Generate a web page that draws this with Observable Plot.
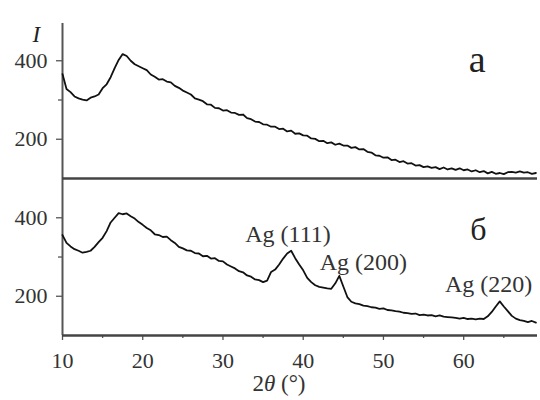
<!DOCTYPE html>
<html>
<head>
<meta charset="utf-8">
<script src="https://cdn.jsdelivr.net/npm/d3@7"></script>
<script src="https://cdn.jsdelivr.net/npm/@observablehq/plot@0.6"></script>
<style>
  body { margin: 0; background: #fff; }
  #chart { width: 540px; height: 400px; position: relative; overflow: hidden; }
  #chart svg { display: block; }
</style>
</head>
<body>
<div id="chart"></div>
<script>
// 2θ values (degrees)
const twoTheta = [
  10,10.5,11,11.5,12,12.5,13,13.5,14,14.5,
  15,15.5,16,16.5,17,17.5,18,18.5,19,19.5,
  20,20.5,21,21.5,22,22.5,23,23.5,24,24.5,
  25,25.5,26,26.5,27,27.5,28,28.5,29,29.5,
  30,30.5,31,31.5,32,32.5,33,33.5,34,34.5,
  35,35.5,36,36.5,37,37.5,38,38.5,39,39.5,
  40,40.5,41,41.5,42,42.5,43,43.5,44,44.5,
  45,45.5,46,46.5,47,47.5,48,48.5,49,49.5,
  50,50.5,51,51.5,52,52.5,53,53.5,54,54.5,
  55,55.5,56,56.5,57,57.5,58,58.5,59,59.5,
  60,60.5,61,61.5,62,62.5,63,63.5,64,64.5,
  65,65.5,66,66.5,67,67.5,68,68.5,69
];
// Panel а intensity
const intensityA = [
  366,328,320,309,304,301,299,306,309,314,
  330,340,358,381,402,417,412,400,391,386,
  381,376,365,359,352,353,347,345,336,331,
  324,319,314,304,301,297,289,288,280,279,
  273,274,268,267,262,263,254,251,245,244,
  238,237,232,232,226,227,220,222,214,215,
  210,209,202,201,195,196,190,192,186,189,
  184,184,178,180,174,175,168,166,159,158,
  153,154,147,148,142,144,138,139,133,134,
  129,131,127,129,124,128,123,126,122,126,
  121,123,118,121,116,119,113,117,112,114,
  111,116,117,115,118,115,116,112,114
];
// Panel б intensity
const intensityB = [
  356,336,327,320,316,311,313,316,326,338,
  349,366,388,400,412,409,411,404,398,389,
  382,374,368,358,356,351,352,343,336,326,
  322,317,316,310,309,302,303,296,297,290,
  289,281,276,271,264,261,253,250,243,241,
  236,240,262,268,281,296,309,316,297,281,
  266,247,236,228,224,222,220,219,233,252,
  225,198,186,182,180,176,175,172,171,168,
  169,165,164,162,161,158,157,155,156,152,
  153,151,152,149,151,148,147,146,145,143,
  145,142,143,141,143,142,149,160,174,187,
  174,162,150,143,139,137,134,137,133
];
const yTicks = [200, 400];
const yMinorTicks = [300];
const xTicks = [10, 20, 30, 40, 50, 60];
const xMinorTicks = [15, 25, 35, 45, 55, 65];
const panelLabels = ["а", "б"];
const peakLabels = ["Ag (111)", "Ag (200)", "Ag (220)"];
const peakX = [38.1, 47.5, 63.1];
const peakY = [357, 286, 230];
const yLabel = "I";
const xLabelParts = ["2", "θ", " (°)"];

const font = "Tinos, FreeSerif, serif";
const xDomain = [10, 69.2];
const axisColor = "#555";
const lineColor = "#111";

const dataA = twoTheta.map((x, i) => ({x, y: intensityA[i]}));
const dataB = twoTheta.map((x, i) => ({x, y: intensityB[i]}));
const peaks = peakLabels.map((t, i) => ({t, x: peakX[i], y: peakY[i]}));

const baseStyle = {fontFamily: font, fontSize: "22px", color: "#333", background: "transparent", overflow: "visible"};

const topPlot = Plot.plot({
  width: 540, height: 180,
  marginLeft: 62, marginRight: 3, marginTop: 21, marginBottom: 2,
  x: {domain: xDomain, axis: null},
  y: {domain: [100, 500], axis: null},
  style: baseStyle,
  marks: [
    Plot.axisY(yTicks, {tickSize: 6, tickPadding: 9, stroke: axisColor, strokeWidth: 1.3, label: null, fontFamily: font}),
    Plot.axisY(yMinorTicks, {tickSize: 4, tickFormat: () => "", stroke: axisColor, strokeWidth: 1.3, label: null}),
    Plot.ruleX([10], {y1: 95, y2: 495, stroke: axisColor, strokeWidth: 2}),
    Plot.ruleY([100], {stroke: "#444", strokeWidth: 2.5}),
    Plot.line(dataA, {x: "x", y: "y", stroke: lineColor, strokeWidth: 1.8, strokeLinejoin: "round"}),
    Plot.text([yLabel], {frameAnchor: "top-left", dx: -30, dy: 4, fontStyle: "italic", fontSize: 23, fill: "#222", fontFamily: font}),
    Plot.text([panelLabels[0]], {frameAnchor: "top-right", dx: -52, dy: 24, fontSize: 38, fill: "#222", fontFamily: font})
  ]
});

const bottomPlot = Plot.plot({
  width: 540, height: 220,
  marginLeft: 62, marginRight: 3, marginTop: 0, marginBottom: 65,
  x: {domain: xDomain, axis: null},
  y: {domain: [100, 495], axis: null},
  style: baseStyle,
  marks: [
    Plot.axisY(yTicks, {tickSize: 6, tickPadding: 9, stroke: axisColor, strokeWidth: 1.3, label: null, fontFamily: font}),
    Plot.axisY(yMinorTicks, {tickSize: 4, tickFormat: () => "", stroke: axisColor, strokeWidth: 1.3, label: null}),
    Plot.axisX(xTicks, {tickSize: 5, tickPadding: 12, stroke: axisColor, strokeWidth: 1.3, label: null, fontFamily: font}),
    Plot.axisX(xMinorTicks, {tickSize: 3, tickFormat: () => "", stroke: axisColor, strokeWidth: 1.3, label: null}),
    Plot.ruleX([10], {y1: 100, y2: 495, stroke: axisColor, strokeWidth: 2}),
    Plot.ruleY([100], {stroke: "#444", strokeWidth: 2.5}),
    Plot.line(dataB, {x: "x", y: "y", stroke: lineColor, strokeWidth: 1.8, strokeLinejoin: "round"}),
    Plot.text(peaks, {x: "x", y: "y", text: "t", fontSize: 24, fill: "#333", fontFamily: font}),
    Plot.text([panelLabels[1]], {frameAnchor: "top-right", dx: -51, dy: 37, fontSize: 32, fill: "#222", fontFamily: font})
  ]
});

const chart = document.getElementById("chart");
chart.appendChild(topPlot);
chart.appendChild(bottomPlot);

// x axis title with italic θ
const svgB = d3.select(bottomPlot);
const t = svgB.append("text")
  .attr("x", 279).attr("y", 211)
  .attr("text-anchor", "middle")
  .attr("fill", "#333")
  .attr("font-family", font)
  .attr("font-size", 23);
t.append("tspan").text(xLabelParts[0]);
t.append("tspan").attr("font-style", "italic").text(xLabelParts[1]);
t.append("tspan").text(xLabelParts[2]);
</script>
</body>
</html>
